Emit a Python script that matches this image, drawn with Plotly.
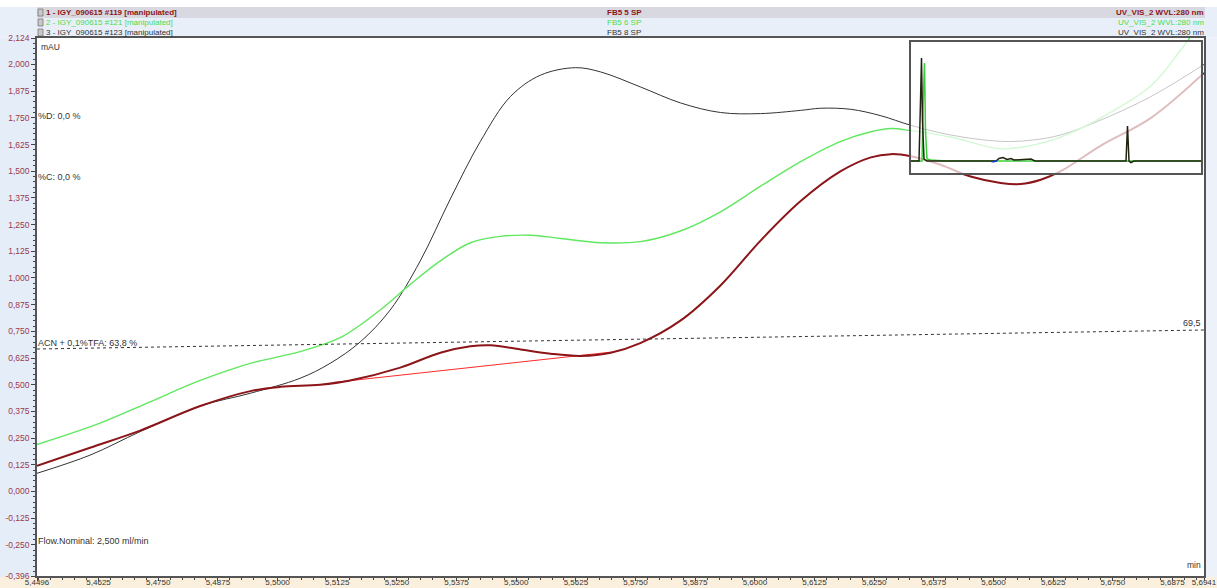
import plotly.graph_objects as go

W, H = 1217, 588
ML, MR, MT, MB = 37, 13, 38, 12

# --- detail window of the three overlaid chromatograms (time in min, signal in mAU)
t_119 = [5.4496, 5.4607, 5.4712, 5.4838, 5.4943, 5.5006, 5.5089, 5.5152, 5.5257,
         5.5341, 5.5404, 5.5446, 5.5509, 5.5572, 5.5635, 5.5698, 5.5760, 5.5844,
         5.5928, 5.6012, 5.6096, 5.6180, 5.6243, 5.6285, 5.6327, 5.6389, 5.6452,
         5.6515, 5.6557, 5.6599, 5.6641, 5.6725, 5.6830, 5.6941]
mau_119 = [0.120, 0.205, 0.285, 0.400, 0.470, 0.490, 0.500, 0.520, 0.580,
           0.650, 0.680, 0.685, 0.665, 0.645, 0.635, 0.650, 0.695, 0.800,
           0.965, 1.175, 1.360, 1.500, 1.565, 1.580, 1.570, 1.530, 1.475,
           1.445, 1.440, 1.460, 1.500, 1.620, 1.750, 1.960]

t_121 = [5.4496, 5.4628, 5.4733, 5.4838, 5.4943, 5.5047, 5.5131, 5.5215, 5.5278,
         5.5341, 5.5404, 5.5467, 5.5530, 5.5593, 5.5677, 5.5760, 5.5844, 5.5928,
         5.6012, 5.6096, 5.6180, 5.6243, 5.6285, 5.6327, 5.6410, 5.6515, 5.6578,
         5.6641, 5.6725, 5.6830, 5.6893, 5.6941]
mau_121 = [0.220, 0.320, 0.420, 0.520, 0.600, 0.655, 0.720, 0.850, 0.970,
           1.080, 1.165, 1.195, 1.200, 1.185, 1.165, 1.170, 1.220, 1.310,
           1.430, 1.545, 1.640, 1.685, 1.700, 1.690, 1.660, 1.605, 1.620,
           1.660, 1.750, 1.900, 2.070, 2.220]

t_123 = [5.4496, 5.4607, 5.4712, 5.4838, 5.4943, 5.5047, 5.5110, 5.5173, 5.5236,
         5.5299, 5.5362, 5.5425, 5.5488, 5.5551, 5.5624, 5.5677, 5.5760, 5.5844,
         5.5928, 5.6012, 5.6096, 5.6138, 5.6201, 5.6264, 5.6327, 5.6410, 5.6515,
         5.6578, 5.6641, 5.6725, 5.6830, 5.6941]
mau_123 = [0.085, 0.170, 0.280, 0.400, 0.460, 0.530, 0.600, 0.700, 0.850,
           1.080, 1.370, 1.640, 1.850, 1.950, 1.985, 1.965, 1.895, 1.820,
           1.775, 1.770, 1.785, 1.795, 1.790, 1.760, 1.715, 1.670, 1.640,
           1.645, 1.670, 1.740, 1.850, 2.000]

# integration baseline under the small peak of #119
t_base = [5.5115, 5.5700]
mau_base = [0.510, 0.653]

# solvent gradient (%B) over the window
t_grad = [5.4496, 5.6941]
grad_b = [63.8, 69.5]

# --- overview of the whole run shown in the small window
ov_t_123 = [0.0, 0.8, 0.95, 1.05, 1.15, 1.3, 1.6, 8.5, 8.8, 9.2, 9.6, 10.0, 10.3,
            11.0, 12.0, 12.4, 21.5, 21.65, 21.8, 22.0, 22.3, 29.0]
ov_123 = [0.0, 0.0, 60.0, 103.0, 40.0, 2.0, 0.0, 0.0, 2.5, 3.5, 1.5, 2.5, 1.0,
          1.5, 2.0, 0.0, 0.0, 35.0, 0.0, -1.5, 0.0, 0.0]
ov_t_121 = [0.0, 1.1, 1.25, 1.35, 1.45, 1.6, 2.0, 3.5, 29.0]
ov_121 = [0.0, 0.0, 70.0, 98.0, 30.0, 2.0, 1.0, 0.0, 0.0]
ov_t_blue = [8.05, 8.3, 8.6]
ov_blue = [-0.8, -0.8, 0.3]

# axis ticks
x_ticks = [5.4496, 5.4625, 5.4750, 5.4875, 5.5000, 5.5125, 5.5250, 5.5375, 5.5500,
           5.5625, 5.5750, 5.5875, 5.6000, 5.6125, 5.6250, 5.6375, 5.6500, 5.6625,
           5.6750, 5.6875, 5.6941]
y_ticks = [2.124, 2.000, 1.875, 1.750, 1.625, 1.500, 1.375, 1.250, 1.125, 1.000,
           0.875, 0.750, 0.625, 0.500, 0.375, 0.250, 0.125, 0.000, -0.125, -0.250,
           -0.396]

COL_119 = "#8b1518"
COL_121 = "#5fe85f"
COL_123 = "#333333"
FONT = "Liberation Sans, Arial, sans-serif"


def dec(v, nd):
    return f"{v:.{nd}f}".replace(".", ",")


def px_x(px):
    return (px - ML) / (W - ML - MR)


def px_y(py):
    return (H - MB - py) / (H - MT - MB)


fig = go.Figure()

fig.add_trace(go.Scatter(x=t_123, y=mau_123, mode="lines", line=dict(color=COL_123, width=1, shape="spline"),
                         name="3 - IGY_090615 #123"))
fig.add_trace(go.Scatter(x=t_121, y=mau_121, mode="lines", line=dict(color=COL_121, width=1.4, shape="spline"),
                         name="2 - IGY_090615 #121"))
fig.add_trace(go.Scatter(x=t_base, y=mau_base, mode="lines", line=dict(color="#ff2a2a", width=1),
                         name="baseline"))
fig.add_trace(go.Scatter(x=t_119, y=mau_119, mode="lines", line=dict(color=COL_119, width=2, shape="spline"),
                         name="1 - IGY_090615 #119"))
fig.add_trace(go.Scatter(x=t_grad, y=grad_b, mode="lines", yaxis="y3",
                         line=dict(color="#333333", width=1, dash="dot"), name="%B"))

# overview window
fig.add_trace(go.Scatter(x=ov_t_121, y=ov_121, mode="lines", xaxis="x2", yaxis="y2",
                         line=dict(color="#3ccf3c", width=1.5)))
fig.add_trace(go.Scatter(x=ov_t_123, y=ov_123, mode="lines", xaxis="x2", yaxis="y2",
                         line=dict(color="#22220f", width=1.5)))
fig.add_trace(go.Scatter(x=ov_t_blue, y=ov_blue, mode="lines", xaxis="x2", yaxis="y2",
                         line=dict(color="#2040d0", width=1.5)))

axis_line = dict(showline=True, mirror=True, linecolor="#555555", linewidth=1.5,
                 showgrid=False, zeroline=False, automargin=False)

fig.update_layout(
    width=W, height=H,
    margin=dict(l=ML, r=MR, t=MT, b=MB, pad=0, autoexpand=False),
    paper_bgcolor="white",
    plot_bgcolor="rgba(255,255,255,0.72)",
    showlegend=False,
    font=dict(family=FONT, size=8, color="#333333"),
    xaxis=dict(range=[5.4496, 5.6941], tickmode="array", tickvals=x_ticks,
               ticktext=[dec(v, 4) for v in x_ticks], ticks="outside", ticklen=3,
               ticklabelstandoff=-5,
               tickcolor="#444444", tickfont=dict(size=8, color="#333333"),
               minor=dict(tickmode="linear", tick0=5.4625, dtick=0.0025, ticks="outside",
                          ticklen=2, tickcolor="#444444"),
               **axis_line),
    yaxis=dict(range=[-0.396, 2.124], tickmode="array", tickvals=y_ticks,
               ticktext=[dec(v, 3) for v in y_ticks], ticks="outside", ticklen=4,
               tickcolor="#444444", tickfont=dict(size=8.5, color="#9b3a4a"),
               minor=dict(tickmode="linear", tick0=0, dtick=0.025, ticks="outside",
                          ticklen=2, tickcolor="#444444"),
               **axis_line),
    yaxis3=dict(overlaying="y", range=[-4.3, 157.1], visible=False),
    xaxis2=dict(domain=[px_x(911), px_x(1201)], anchor="y2", range=[0, 29],
                showticklabels=False, ticks="", **axis_line),
    yaxis2=dict(domain=[px_y(173), px_y(42)], anchor="x2", range=[-12, 119],
                showticklabels=False, ticks="", **axis_line),
)

# frame backgrounds around the plot area
shapes = [
    dict(x0=px_x(0), x1=px_x(W), y0=px_y(37.5), y1=px_y(7), fill="#e8eff9"),
    dict(x0=px_x(37), x1=px_x(1205), y0=px_y(18), y1=px_y(7), fill="#d8d8e0"),
    dict(x0=px_x(0), x1=px_x(36), y0=px_y(577), y1=px_y(37.5), fill="#e5edf8"),
    dict(x0=px_x(1205), x1=px_x(W), y0=px_y(577), y1=px_y(37.5), fill="#edf2fa"),
    dict(x0=px_x(0), x1=px_x(W), y0=px_y(H), y1=px_y(577), fill="#fbf0dd"),
]
for s in shapes:
    fig.add_shape(type="rect", xref="paper", yref="paper", x0=s["x0"], x1=s["x1"],
                  y0=s["y0"], y1=s["y1"], fillcolor=s["fill"], line=dict(width=0), layer="below")

# small channel icons in the header rows
for row_y in (12.5, 22.5, 32.5):
    fig.add_shape(type="rect", xref="paper", yref="paper", x0=px_x(38), x1=px_x(43),
                  y0=px_y(row_y + 3.5), y1=px_y(row_y - 3.5), fillcolor="#c8c8c8",
                  line=dict(color="#777777", width=0.8), layer="below")


def label(text, px, py, color="#333333", size=9, anchor="left", bold=False):
    if bold:
        text = f"<b>{text}</b>"
    fig.add_annotation(text=text, xref="paper", yref="paper", x=px_x(px), y=px_y(py),
                       xanchor=anchor, yanchor="middle", showarrow=False,
                       font=dict(family=FONT, size=size, color=color))


# chromatogram header rows
rows = [
    ("1 - IGY_090615 #119 [manipulated]", "FB5 5 SP", COL_119, True),
    ("2 - IGY_090615 #121 [manipulated]", "FB5 6 SP", "#4cdc4c", False),
    ("3 - IGY_090615 #123 [manipulated]", "FB5 8 SP", "#333333", False),
]
for i, (name, sample, col, bold) in enumerate(rows):
    y = 12.5 + 10 * i
    label(name, 44, y, col, 8, "left", bold)
    label(sample, 624, y, col, 8, "center", bold)
    label("UV_VIS_2 WVL:280 nm", 1206, y, col, 8, "right", bold)

label("mAU", 39, 47, size=8.5)
label("%D: 0,0 %", 36, 116)
label("%C: 0,0 %", 36, 177)
label(f"ACN + 0,1%TFA: {dec(grad_b[0], 1)} %", 36, 343)
label(dec(grad_b[-1], 1), 1203, 323, anchor="right")
label("Flow.Nominal: 2,500 ml/min", 36, 541)
label("min", 1203, 565, size=8.5, anchor="right")

fig.write_html("out.html")
